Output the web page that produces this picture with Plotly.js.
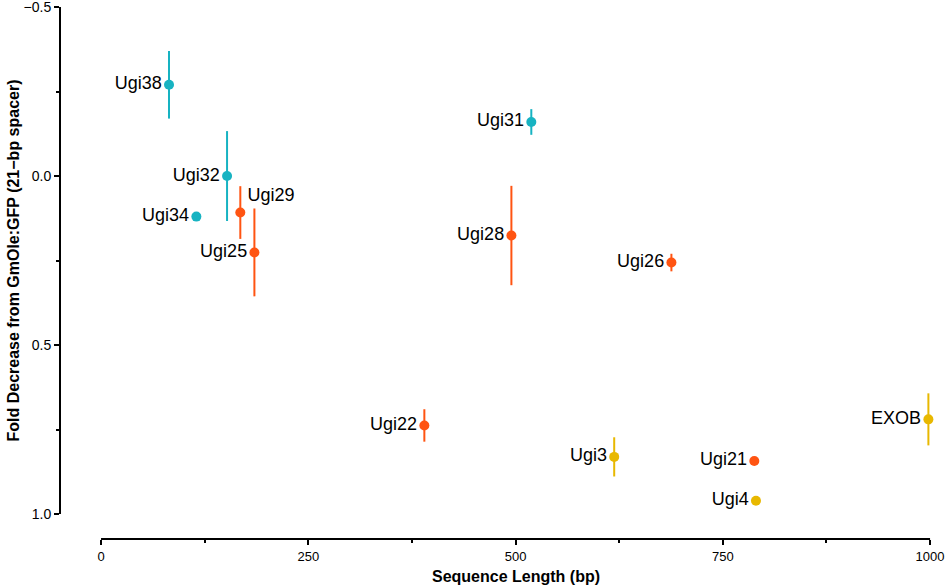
<!DOCTYPE html>
<html>
<head>
<meta charset="utf-8">
<script src="https://cdn.plot.ly/plotly-3.0.1.min.js"></script>
<style>html,body{margin:0;padding:0;background:#fff;}#chart{width:945px;height:587px;}</style>
</head>
<body>
<div id="chart"></div>
<script>
// ---- data ----
const tealNames   = ['Ugi38', 'Ugi32', 'Ugi34', 'Ugi31'];
const tealLength  = [82, 152, 115, 519];
const tealFold    = [-0.27, 0.0, 0.12, -0.16];
const tealErr     = [0.10, 0.133, 0, 0.038];

const orangeNames  = ['Ugi29', 'Ugi25', 'Ugi28', 'Ugi26', 'Ugi22', 'Ugi21'];
const orangeLength = [168, 185, 495, 688, 390, 788];
const orangeFold   = [0.108, 0.226, 0.176, 0.256, 0.738, 0.843];
const orangeErr    = [0.078, 0.13, 0.147, 0.026, 0.048, 0];

const yellowNames  = ['Ugi3', 'Ugi4', 'EXOB'];
const yellowLength = [619, 790, 998];
const yellowFold   = [0.831, 0.961, 0.72];
const yellowErr    = [0.058, 0.012, 0.077];

const xTitle = 'Sequence Length (bp)';
const yTitle = 'Fold Decrease from GmOle:GFP (21\u2212bp spacer)';

// ---- styling ----
const FONT = 'Liberation Sans, Arial, Helvetica, sans-serif';
const TEAL = '#17B3C2', ORANGE = '#FF5412', YELLOW = '#E8B800';
const XR = [-49.5, 1012];
const YR = [1.074, -0.515];
const px = x => (x - XR[0]) / (XR[1] - XR[0]);
const py = y => (y - YR[0]) / (YR[1] - YR[0]);

function series(names, xs, ys, errs, color) {
  return {
    type: 'scatter', mode: 'markers+text',
    x: xs, y: ys, text: names,
    textposition: names.map(n => n === 'Ugi29' ? 'top right' : 'middle left'),
    textfont: {family: FONT, size: 18, color: '#000'},
    marker: {color: color, size: 10},
    error_y: {type: 'data', array: errs, visible: true, color: color, thickness: 2, width: 0},
    cliponaxis: false, showlegend: false, hoverinfo: 'x+y+text'
  };
}

const data = [
  series(tealNames, tealLength, tealFold, tealErr, TEAL),
  series(orangeNames, orangeLength, orangeFold, orangeErr, ORANGE),
  series(yellowNames, yellowLength, yellowFold, yellowErr, YELLOW)
];

const layout = {
  width: 945, height: 587,
  margin: {l: 60, r: 5, t: 2, b: 48},
  paper_bgcolor: '#fff', plot_bgcolor: '#fff',
  font: {family: FONT, color: '#000', size: 13},
  xaxis: {
    range: XR, showgrid: false, zeroline: false, showline: false,
    tick0: 0, dtick: 250, ticks: 'outside', ticklen: 5, tickwidth: 2, tickcolor: '#000',
    tickfont: {family: FONT, size: 13, color: '#000'},
    ticklabeloverflow: 'allow',
    minor: {ticks: 'outside', ticklen: 3, tickwidth: 2, tickcolor: '#000', tick0: 0, dtick: 125, showgrid: false}
  },
  yaxis: {
    range: YR, showgrid: false, zeroline: false, showline: false,
    tick0: 0, dtick: 0.5, tickformat: '.1f', ticks: 'outside', ticklen: 5, tickwidth: 2, tickcolor: '#000',
    tickfont: {family: FONT, size: 14, color: '#000'},
    ticklabeloverflow: 'allow',
    minor: {ticks: 'outside', ticklen: 3, tickwidth: 2, tickcolor: '#000', tick0: 0, dtick: 0.25, showgrid: false}
  },
  shapes: [
    {type: 'line', xref: 'paper', yref: 'paper', x0: 0, x1: 0, y0: py(-0.5), y1: py(1.0),
     line: {color: '#000', width: 2}},
    {type: 'line', xref: 'paper', yref: 'paper', x0: px(0), x1: px(1000), y0: 0, y1: 0,
     line: {color: '#000', width: 2}}
  ],
  annotations: [
    {text: '<b>' + xTitle + '</b>', xref: 'paper', yref: 'paper', x: px(500), y: 0,
     xanchor: 'center', yanchor: 'top', yshift: -27, showarrow: false,
     font: {family: FONT, size: 16, color: '#000'}},
    {text: '<b>' + yTitle + '</b>', xref: 'paper', yref: 'paper', x: 0, y: py(0.25),
     xanchor: 'center', yanchor: 'middle', xshift: -46, textangle: -90, showarrow: false,
     font: {family: FONT, size: 16, color: '#000'}}
  ]
};

Plotly.newPlot('chart', data, layout, {displayModeBar: false, staticPlot: true});
</script>
</body>
</html>
